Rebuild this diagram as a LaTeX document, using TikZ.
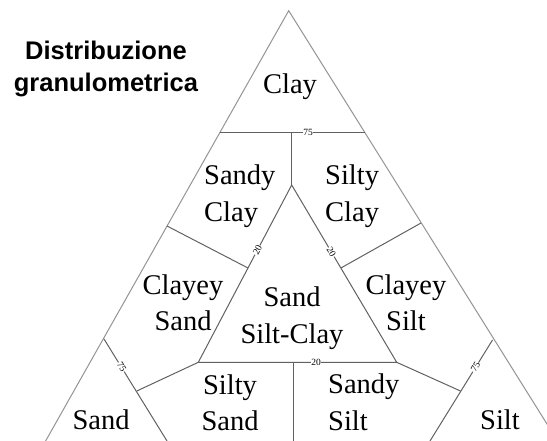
\documentclass[tikz,border=0pt]{standalone}
\usepackage{fontspec}
\setmainfont{Liberation Serif}
\newfontfamily\titlefont{Liberation Sans}
\begin{document}
\begin{tikzpicture}[x=1pt,y=-1pt,
  outer/.style={draw=black!42, line width=1pt},
  inner/.style={draw=black!62, line width=1pt},
  zone/.style={font=\fontsize{28.5}{36.7}\selectfont, inner sep=0pt},
  tick/.style={font=\fontsize{9.5}{10}\selectfont, fill=white, inner sep=0.5pt},
  title/.style={font=\titlefont\bfseries\fontsize{25.5}{32.4}\selectfont, align=center, inner sep=0pt},
]
\useasboundingbox (0,0) rectangle (547,441);
\clip (0,0) rectangle (547,441);

% outer triangle
\coordinate (apex) at (288.7,10.7);
\coordinate (obl) at (45.6,441);
\coordinate (obr) at (557.6,441);
% 75 % clay line
\coordinate (tl) at (219.8,132.7);
\coordinate (tm) at (291.7,132.7);
\coordinate (tr) at (365,132.7);
% central triangle
\coordinate (ia) at (291.7,185);
\coordinate (ibl) at (198.3,362.3);
\coordinate (ibr) at (396.7,362.3);
\coordinate (ibm) at (293.3,362.3);
\coordinate (bm) at (293.3,441);
% side boundaries
\coordinate (lo) at (167,226);
\coordinate (li) at (248,268);
\coordinate (ri) at (340.9,268);
\coordinate (ro) at (421,223);
% 75 % sand / silt lines
\coordinate (sa1) at (104,339);
\coordinate (sa2) at (167,441);
\coordinate (sak) at (136.8,391);
\coordinate (si1) at (492.5,340);
\coordinate (si2) at (430,441);
\coordinate (sik) at (460.5,391);

\draw[outer] (obl) -- (apex) -- (obr);
\draw[inner] (tl) -- (tr);
\draw[inner] (tm) -- (ia);
\draw[inner] (ibl) -- (ia) -- (ibr) -- (ibl);
\draw[inner] (ibm) -- (bm);
\draw[inner] (lo) -- (li);
\draw[inner] (ri) -- (ro);
\draw[inner] (sa1) -- (sa2);
\draw[inner] (sik) -- (ibr);
\draw[inner] (si1) -- (si2);
\draw[inner] (sak) -- (ibl);

% boundary values
\node[tick] (v75t) at (308,132.7) {75};
\node[tick, rotate=62] (v20l) at (257.5,250) {20};
\node[tick, rotate=-59.4] (v20r) at (331.4,252) {20};
\node[tick] (v20b) at (316,362.3) {20};
\node[tick, rotate=-58.7] (v75l) at (121.8,366.7) {75};
\node[tick, rotate=58.5] (v75r) at (475.4,367) {75};

% class names (base anchor = baseline of the last line)
\node[zone, anchor=base] (clay) at (290,93.3) {Clay};
\node[zone, align=left, anchor=base west] (sandyclay) at (204,221.7) {Sandy\\Clay};
\node[zone, align=left, anchor=base west] (siltyclay) at (325,221.7) {Silty\\Clay};
\node[zone, align=center, anchor=base] (clayeysand) at (183,330.7) {Clayey\\Sand};
\node[zone, align=center, anchor=base] (sandsiltclay) at (292,343.7) {Sand\\Silt-Clay};
\node[zone, align=center, anchor=base] (clayeysilt) at (406,330.7) {Clayey\\Silt};
\node[zone, align=center, anchor=base] (siltysand) at (230,430.7) {Silty\\Sand};
\node[zone, align=left, anchor=base west] (sandysilt) at (328,430) {Sandy\\Silt};
\node[zone, anchor=base] (sand) at (101,429.3) {Sand};
\node[zone, anchor=base west] (silt) at (480,429.3) {Silt};

% heading
\node[title, anchor=base] (heading) at (106,91.7) {Distribuzione\\granulometrica};
\end{tikzpicture}
\end{document}
